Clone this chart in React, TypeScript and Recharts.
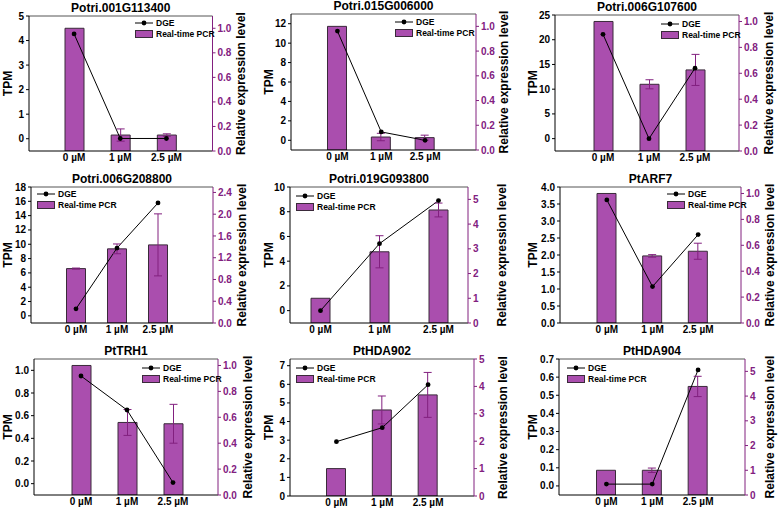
import React from 'react';
import { ComposedChart, Bar, Line, XAxis, YAxis, ErrorBar, ReferenceLine, Legend } from 'recharts';

const doses = ['0 µM', '1 µM', '2.5 µM'];
const genes = [
  'Potri.001G113400', 'Potri.015G006000', 'Potri.006G107600',
  'Potri.006G208800', 'Potri.019G093800', 'PtARF7',
  'PtTRH1', 'PtHDA902', 'PtHDA904',
];

// DGE, TPM (left axis)
const dgeTpm = [
  [4.27, 0.01, 0.01],
  [11.24, 0.86, 0.0],
  [21.1, 0.0, 14.25],
  [0.98, 9.47, 15.77],
  [0.0, 5.42, 8.9],
  [3.62, 1.07, 2.6],
  [0.95, 0.65, 0.01],
  [2.92, 3.67, 5.98],
  [0.01, 0.01, 0.64],
];
// Real-time PCR, relative expression (right axis)
const pcrLevel = [
  [1.0, 0.13, 0.13],
  [1.0, 0.105, 0.1],
  [1.0, 0.515, 0.626],
  [1.0, 1.363, 1.436],
  [1.0, 2.88, 4.57],
  [1.0, 0.518, 0.554],
  [1.0, 0.56, 0.55],
  [1.0, 3.14, 3.69],
  [1.0, 1.0, 4.39],
];
const pcrErr = [
  [0, 0.05, 0.01],
  [0, 0.03, 0.02],
  [0, 0.035, 0.12],
  [0.01, 0.09, 0.57],
  [0, 0.65, 0.28],
  [0, 0.01, 0.062],
  [0, 0.1, 0.15],
  [0, 0.51, 0.82],
  [0, 0.09, 0.41],
];

const tpmTicks = [
  [0, 1, 2, 3, 4, 5],
  [0, 2, 4, 6, 8, 10, 12],
  [0, 5, 10, 15, 20, 25],
  [0, 2, 4, 6, 8, 10, 12, 14, 16, 18],
  [0, 2, 4, 6, 8, 10],
  [0, 0.5, 1, 1.5, 2, 2.5, 3, 3.5, 4],
  [0, 0.2, 0.4, 0.6, 0.8, 1.0],
  [0, 1, 2, 3, 4, 5, 6, 7],
  [0, 0.1, 0.2, 0.3, 0.4, 0.5, 0.6, 0.7],
];
const tpmRange = [[-0.5, 5], [-1, 13], [-2.5, 25], [-1, 18], [-1, 10], [0, 4], [-0.1, 1.1], [0, 7.36], [-0.05, 0.7]];
const tpmDigits = [0, 0, 0, 0, 0, 1, 1, 0, 1];

const relTicks = [
  [0, 0.2, 0.4, 0.6, 0.8, 1.0],
  [0, 0.2, 0.4, 0.6, 0.8, 1.0],
  [0, 0.2, 0.4, 0.6, 0.8, 1.0],
  [0, 0.4, 0.8, 1.2, 1.6, 2.0, 2.4],
  [0, 1, 2, 3, 4, 5],
  [0, 0.2, 0.4, 0.6, 0.8, 1.0],
  [0, 0.2, 0.4, 0.6, 0.8, 1.0],
  [0, 1, 2, 3, 4, 5],
  [0, 1, 2, 3, 4, 5],
];
const relRange = [[0, 1.1], [0, 1.1], [0, 1.05], [0, 2.5], [0, 5.5], [0, 1.05], [0, 1.05], [0, 5], [0, 5.5]];
const relDigits = [1, 1, 1, 1, 0, 1, 1, 0, 0];

// page layout of each panel (plot box, category padding, legend anchor, axis title x)
const colEdges = [0, 259, 518, 778];
const rowEdges = [0, 168, 338, 510];
const boxes = [
  { x0: 29, x1: 212.5, y0: 16, y1: 151, pl: 22, pr: 23, lx: 135, ly: 23, tx: 8, rx: 241 },
  { x0: 291, x1: 476, y0: 14, y1: 150, pl: 24.5, pr: 29, lx: 395, ly: 22, tx: 269, rx: 504 },
  { x0: 555, x1: 739, y0: 15, y1: 151, pl: 25, pr: 21, lx: 661, ly: 24, tx: 533, rx: 769 },
  { x0: 31, x1: 213, y0: 187, y1: 323, pl: 24.5, pr: 34.5, lx: 37, ly: 194, tx: 8, rx: 242 },
  { x0: 290, x1: 468, y0: 187, y1: 323, pl: 1, pr: 0, lx: 296, ly: 196, tx: 269, rx: 502 },
  { x0: 560, x1: 741, y0: 187, y1: 323, pl: 24, pr: 20, lx: 667, ly: 194, tx: 533, rx: 770 },
  { x0: 34, x1: 218, y0: 359, y1: 495, pl: 24, pr: 22, lx: 142, ly: 368, tx: 8, rx: 248 },
  { x0: 290, x1: 474, y0: 359, y1: 496, pl: 23.5, pr: 23, lx: 296, ly: 368, tx: 269, rx: 503 },
  { x0: 559, x1: 745, y0: 359, y1: 495, pl: 24.5, pr: 24, lx: 567, ly: 368, tx: 533, rx: 770 },
];

const FONT = '"Liberation Sans", Arial, sans-serif';
const PURPLE = '#82207f';
const BAR = '#9b2fa0';

function LegendBox() {
  return (
    <div style={{ fontFamily: FONT, fontSize: 8.5, fontWeight: 700, color: '#000', lineHeight: '10.5px' }}>
      <div style={{ display: 'flex', alignItems: 'center', height: 10.5 }}>
        <svg width={18} height={8} style={{ marginRight: 3 }}>
          <line x1={0} y1={4} x2={18} y2={4} stroke="#000" strokeWidth={1} />
          <circle cx={9} cy={4} r={2.4} fill="#000" />
        </svg>
        <span>DGE</span>
      </div>
      <div style={{ display: 'flex', alignItems: 'center', height: 10.5 }}>
        <svg width={18} height={8} style={{ marginRight: 3 }}>
          <rect x={0.5} y={0.5} width={17} height={7} fill={BAR} fillOpacity={0.85} stroke="#3a2a3a" />
        </svg>
        <span>Real-time PCR</span>
      </div>
    </div>
  );
}

function Panel({ i }: { i: number }) {
  const b = boxes[i];
  const col = i % 3;
  const row = Math.floor(i / 3);
  const bx0 = colEdges[col];
  const bx1 = colEdges[col + 1];
  const by0 = rowEdges[row];
  const by1 = rowEdges[row + 1];
  const W = bx1 - bx0;
  const H = by1 - by0;
  const xh = 14;
  const data = doses.map((d, k) => ({
    dose: d,
    dge: dgeTpm[i][k],
    pcr: pcrLevel[i][k],
    err: pcrErr[i][k],
  }));
  const midY = (b.y0 + b.y1) / 2 - by0;
  const tick = { fontSize: 10, fontWeight: 700, fontFamily: FONT };

  const axisTitle = (x: number, text: string) => () => (
    <text
      x={x}
      y={midY}
      transform={`rotate(-90 ${x} ${midY})`}
      textAnchor="middle"
      dominantBaseline="central"
      fontFamily={FONT}
      fontWeight={700}
      fontSize={12}
      fill="#000"
    >
      {text}
    </text>
  );

  return (
    <div style={{ position: 'absolute', left: bx0, top: by0, width: W, height: H }}>
      <ComposedChart
        width={W}
        height={H}
        data={data}
        margin={{ top: b.y0 - by0, bottom: by1 - b.y1 - xh, left: 0, right: 0 }}
      >
        <XAxis
          dataKey="dose"
          height={xh}
          interval={0}
          tickLine={false}
          tickSize={0}
          tickMargin={3}
          padding={{ left: b.pl, right: b.pr }}
          axisLine={{ stroke: '#000' }}
          tick={{ ...tick, fill: '#000' }}
        />
        <YAxis
          yAxisId="tpm"
          width={b.x0 - bx0}
          domain={tpmRange[i]}
          ticks={tpmTicks[i]}
          allowDataOverflow
          interval={0}
          tickSize={3}
          tickMargin={2}
          axisLine={{ stroke: '#000' }}
          tickLine={{ stroke: '#000' }}
          tick={{ ...tick, fill: '#000' }}
          tickFormatter={(v: number) => v.toFixed(tpmDigits[i])}
          label={{ content: axisTitle(b.tx - bx0, 'TPM') }}
        />
        <YAxis
          yAxisId="rel"
          orientation="right"
          width={bx1 - b.x1}
          domain={relRange[i]}
          ticks={relTicks[i]}
          allowDataOverflow
          interval={0}
          tickSize={3}
          tickMargin={2}
          axisLine={{ stroke: PURPLE }}
          tickLine={{ stroke: PURPLE }}
          tick={{ ...tick, fill: PURPLE }}
          tickFormatter={(v: number) => v.toFixed(relDigits[i])}
          label={{ content: axisTitle(b.rx - bx0, 'Relative expression level') }}
        />
        <ReferenceLine
          yAxisId="tpm"
          y={tpmRange[i][1]}
          stroke="#555"
          strokeWidth={1}
          label={{
            content: () => (
              <text
                x={(b.x0 + b.x1) / 2 - bx0}
                y={b.y0 - by0 - 4}
                textAnchor="middle"
                fontFamily={FONT}
                fontWeight={700}
                fontSize={12}
                fill="#000"
              >
                {genes[i]}
              </text>
            ),
          }}
        />
        <Line
          yAxisId="tpm"
          dataKey="dge"
          stroke="#000"
          strokeWidth={1}
          dot={{ r: 2.4, fill: '#000', stroke: '#000', strokeWidth: 0 }}
          isAnimationActive={false}
        />
        <Bar
          yAxisId="rel"
          dataKey="pcr"
          barSize={19}
          fill={BAR}
          fillOpacity={0.85}
          stroke="#3a2a3a"
          strokeWidth={1}
          isAnimationActive={false}
        >
          <ErrorBar dataKey="err" width={4} stroke={PURPLE} strokeWidth={1} direction="y" />
        </Bar>
        <Legend
          layout="vertical"
          align="center"
          verticalAlign="middle"
          content={() => <LegendBox />}
          wrapperStyle={{ left: b.lx - bx0, top: b.ly - by0 - 5, width: 'auto', height: 'auto' }}
        />
      </ComposedChart>
    </div>
  );
}

export default function App() {
  return (
    <div style={{ position: 'absolute', left: 0, top: 0, width: 778, height: 510, background: '#fff' }}>
      {genes.map((g, i) => (
        <Panel key={g} i={i} />
      ))}
    </div>
  );
}
